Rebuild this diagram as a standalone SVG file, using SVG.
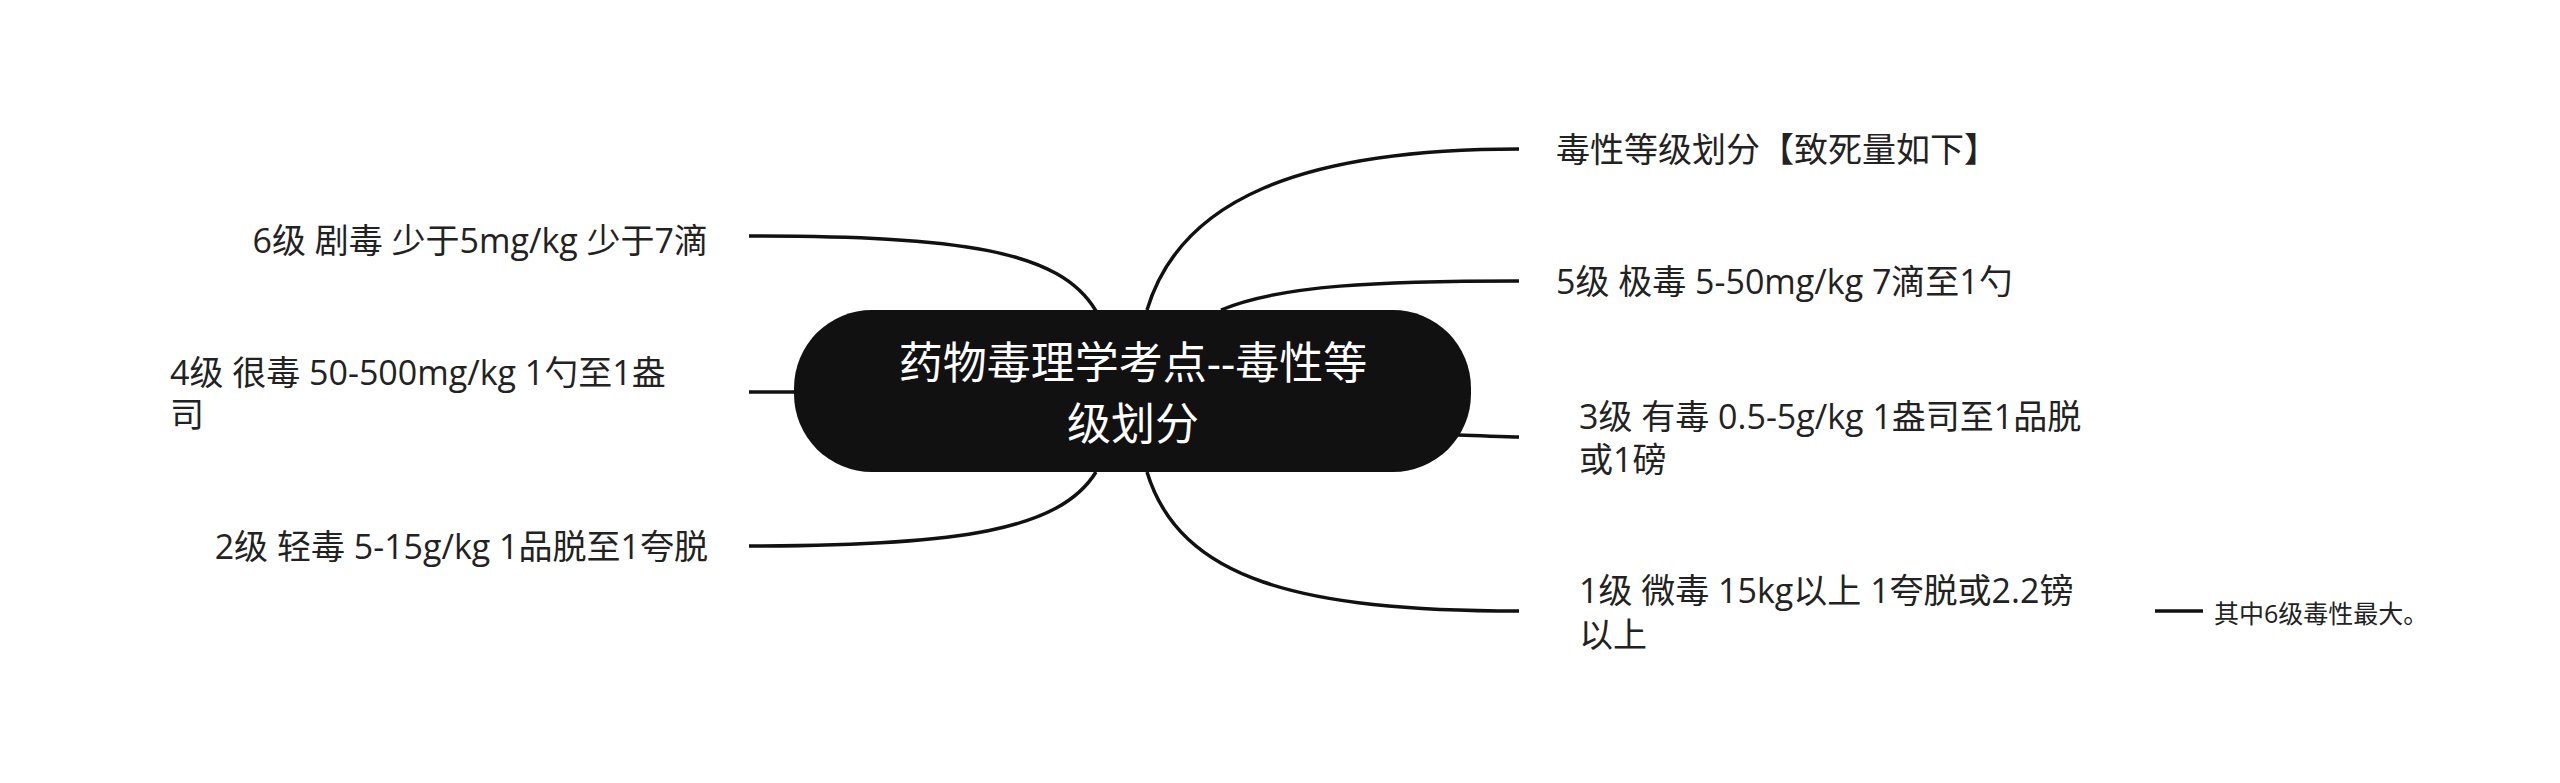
<svg xmlns="http://www.w3.org/2000/svg" width="2560" height="783" viewBox="0 0 2560 783">
<style>
.c{fill:none;stroke:#111;stroke-width:3.5}
.t{font-family:"Open Sans","Noto Sans CJK SC",sans-serif;font-size:34px;fill:#222;dominant-baseline:central}
.s{font-size:25px}
.m{font-family:"Open Sans","Noto Sans CJK SC",sans-serif;font-size:44px;fill:#fff;text-anchor:middle;dominant-baseline:central}
</style>
<rect width="2560" height="783" fill="#fff"/>
<g id="connectors">
<path class="c" d="M749,236 C960,236 1060,250 1096,311"/>
<path class="c" d="M749,392 L794,392"/>
<path class="c" d="M749,546 C960,546 1060,530 1096,472"/>
<path class="c" d="M1147,310 C1180,200 1300,149 1519,149"/>
<path class="c" d="M1221,310 C1280,285 1380,281 1519,281"/>
<path class="c" d="M1458,435 C1490,436 1505,437 1519,437"/>
<path class="c" d="M1147,472 C1180,580 1300,611 1519,611"/>
<path class="c" d="M2155,611 L2203,611"/>
</g>
<g id="root">
<rect x="794" y="310" width="677" height="162" rx="78" ry="78" fill="#111"/>
<text class="m" x="1133" y="362">药物毒理学考点--毒性等</text>
<text class="m" x="1133" y="423">级划分</text>
</g>
<g id="n6"><text class="t" x="708" y="240" text-anchor="end">6级 剧毒 少于5mg/kg 少于7滴</text></g>
<g id="n4"><text class="t" x="170" y="372">4级 很毒 50-500mg/kg 1勺至1盎</text><text class="t" x="170" y="414">司</text></g>
<g id="n2"><text class="t" x="708" y="546" text-anchor="end">2级 轻毒 5-15g/kg 1品脱至1夸脱</text></g>
<g id="h"><text class="t" x="1556" y="149">毒性等级划分【致死量如下】</text></g>
<g id="n5"><text class="t" x="1556" y="281">5级 极毒 5-50mg/kg 7滴至1勺</text></g>
<g id="n3"><text class="t" x="1579" y="416">3级 有毒 0.5-5g/kg 1盎司至1品脱</text><text class="t" x="1579" y="459">或1磅</text></g>
<g id="n1"><text class="t" x="1579" y="590">1级 微毒 15kg以上 1夸脱或2.2镑</text><text class="t" x="1579" y="634">以上</text></g>
<g id="note"><text class="t s" x="2214" y="613">其中6级毒性最大。</text></g>
</svg>
